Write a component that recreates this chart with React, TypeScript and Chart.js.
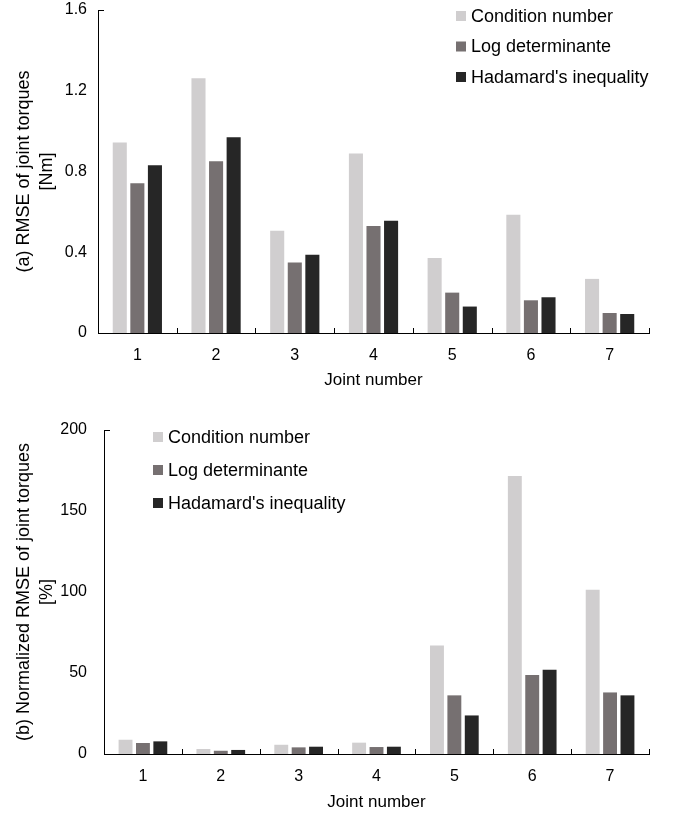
import React, { useEffect, useRef } from "react";
import { Chart, registerables } from "chart.js";

Chart.register(...registerables);

const joints = ["1", "2", "3", "4", "5", "6", "7"];
const seriesNames = ["Condition number", "Log determinante", "Hadamard's inequality"];
const seriesColors = ["#d0cecf", "#767071", "#262626"];

const rmseCondition = [0.944, 1.262, 0.507, 0.889, 0.371, 0.586, 0.268];
const rmseLogDet = [0.742, 0.851, 0.349, 0.53, 0.2, 0.162, 0.099];
const rmseHadamard = [0.831, 0.97, 0.388, 0.556, 0.131, 0.177, 0.094];

const nrmseCondition = [8.8, 3.1, 5.7, 7.0, 66.9, 171.6, 101.4];
const nrmseLogDet = [6.8, 2.0, 4.1, 4.3, 36.2, 48.8, 38.0];
const nrmseHadamard = [7.8, 2.5, 4.5, 4.5, 23.8, 52.0, 36.2];

const FONT = "'Liberation Sans', Arial, sans-serif";

type PanelProps = {
  height: number;
  values: number[][];
  yMax: number;
  yStep: number;
  yTitle: string[];
  axisLeft: number;
  padTop: number;
  padBottom: number;
  xAxisHeight: number;
  yTickPad: number;
  legendX: number;
  legendY: number;
  legendGap: number;
};

const decorPlugin = {
  id: "decor",
  afterDraw(chart: any, _args: any, opts: any) {
    const ctx = chart.ctx;
    const x = chart.scales.x;
    const area = chart.chartArea;
    ctx.save();
    ctx.strokeStyle = "#000";
    ctx.lineWidth = 1;
    // inward tick marks on x axis at category boundaries
    const n = chart.data.labels.length;
    ctx.beginPath();
    for (let i = 0; i < n; i++) {
      const bx = i < n - 1 ? (x.getPixelForValue(i) + x.getPixelForValue(i + 1)) / 2 : area.right;
      const px = Math.round(bx) + 0.5;
      ctx.moveTo(px, area.bottom);
      ctx.lineTo(px, area.bottom - 5);
    }
    // top tick on y axis
    const ty = Math.round(area.top) + 0.5;
    ctx.moveTo(area.left, ty);
    ctx.lineTo(area.left + 6, ty);
    ctx.stroke();

    // legend
    ctx.font = `18px ${FONT}`;
    ctx.textBaseline = "middle";
    ctx.textAlign = "left";
    chart.data.datasets.forEach((ds: any, i: number) => {
      const cy = opts.y + i * opts.gap;
      ctx.fillStyle = ds.backgroundColor;
      ctx.fillRect(opts.x, cy - 5, 10, 10);
      ctx.fillStyle = "#000";
      ctx.fillText(ds.label, opts.x + 15, cy + 1);
    });
    ctx.restore();
  },
};

function Panel(p: PanelProps) {
  const ref = useRef<HTMLCanvasElement>(null);
  useEffect(() => {
    if (!ref.current) return;
    const chart = new Chart(ref.current, {
      type: "bar",
      data: {
        labels: joints,
        datasets: seriesNames.map((name, i) => ({
          label: name,
          data: p.values[i],
          backgroundColor: seriesColors[i],
          borderWidth: 0,
          categoryPercentage: 0.67,
          barPercentage: 0.8,
        })),
      },
      options: {
        animation: false,
        responsive: false,
        maintainAspectRatio: false,
        devicePixelRatio: 1,
        layout: { padding: { top: p.padTop, bottom: p.padBottom, left: 0, right: 25 } },
        plugins: {
          legend: { display: false },
          tooltip: { enabled: false },
          decor: { x: p.legendX, y: p.legendY, gap: p.legendGap },
        } as any,
        scales: {
          x: {
            grid: { display: false, drawTicks: false },
            border: { display: true, color: "#000", width: 1 },
            ticks: { color: "#000", font: { family: FONT, size: 16 }, padding: 13 },
            title: {
              display: true,
              text: "Joint number",
              color: "#000",
              font: { family: FONT, size: 17 },
              padding: { top: 0, bottom: 0 },
            },
            afterFit: (s: any) => {
              s.height = p.xAxisHeight;
              s.paddingLeft = 0;
              s.paddingRight = 0;
            },
          },
          y: {
            min: 0,
            max: p.yMax,
            grid: { display: false, drawTicks: false },
            border: { display: true, color: "#000", width: 1 },
            ticks: {
              stepSize: p.yStep,
              color: "#000",
              font: { family: FONT, size: 16 },
              padding: p.yTickPad,
            },
            title: {
              display: true,
              text: p.yTitle,
              color: "#000",
              font: { family: FONT, size: 18, lineHeight: 1.3 },
              padding: { top: 12, bottom: 0 },
            },
            afterFit: (s: any) => {
              s.width = p.axisLeft;
              s.paddingTop = 0;
              s.paddingBottom = 0;
            },
          },
        },
      },
      plugins: [decorPlugin],
    });
    return () => chart.destroy();
  }, []);
  return (
    <div style={{ width: 674, height: p.height, position: "relative" }}>
      <canvas ref={ref} width={674} height={p.height} style={{ display: "block" }} />
    </div>
  );
}

export default function App() {
  useEffect(() => {
    document.body.style.margin = "0";
  }, []);
  return (
    <div style={{ width: 674, height: 814, background: "#fff" }}>
      <Panel
        height={400}
        values={[rmseCondition, rmseLogDet, rmseHadamard]}
        yMax={1.6}
        yStep={0.4}
        yTitle={["(a) RMSE of joint torques", "[Nm]"]}
        axisLeft={98}
        padTop={10}
        padBottom={9}
        xAxisHeight={58}
        yTickPad={11}
        legendX={456}
        legendY={16}
        legendGap={30.5}
      />
      <Panel
        height={414}
        values={[nrmseCondition, nrmseLogDet, nrmseHadamard]}
        yMax={200}
        yStep={50}
        yTitle={["(b) Normalized RMSE of joint torques", "[%]"]}
        axisLeft={104}
        padTop={30}
        padBottom={1}
        xAxisHeight={59}
        yTickPad={17}
        legendX={153}
        legendY={37}
        legendGap={33}
      />
    </div>
  );
}
